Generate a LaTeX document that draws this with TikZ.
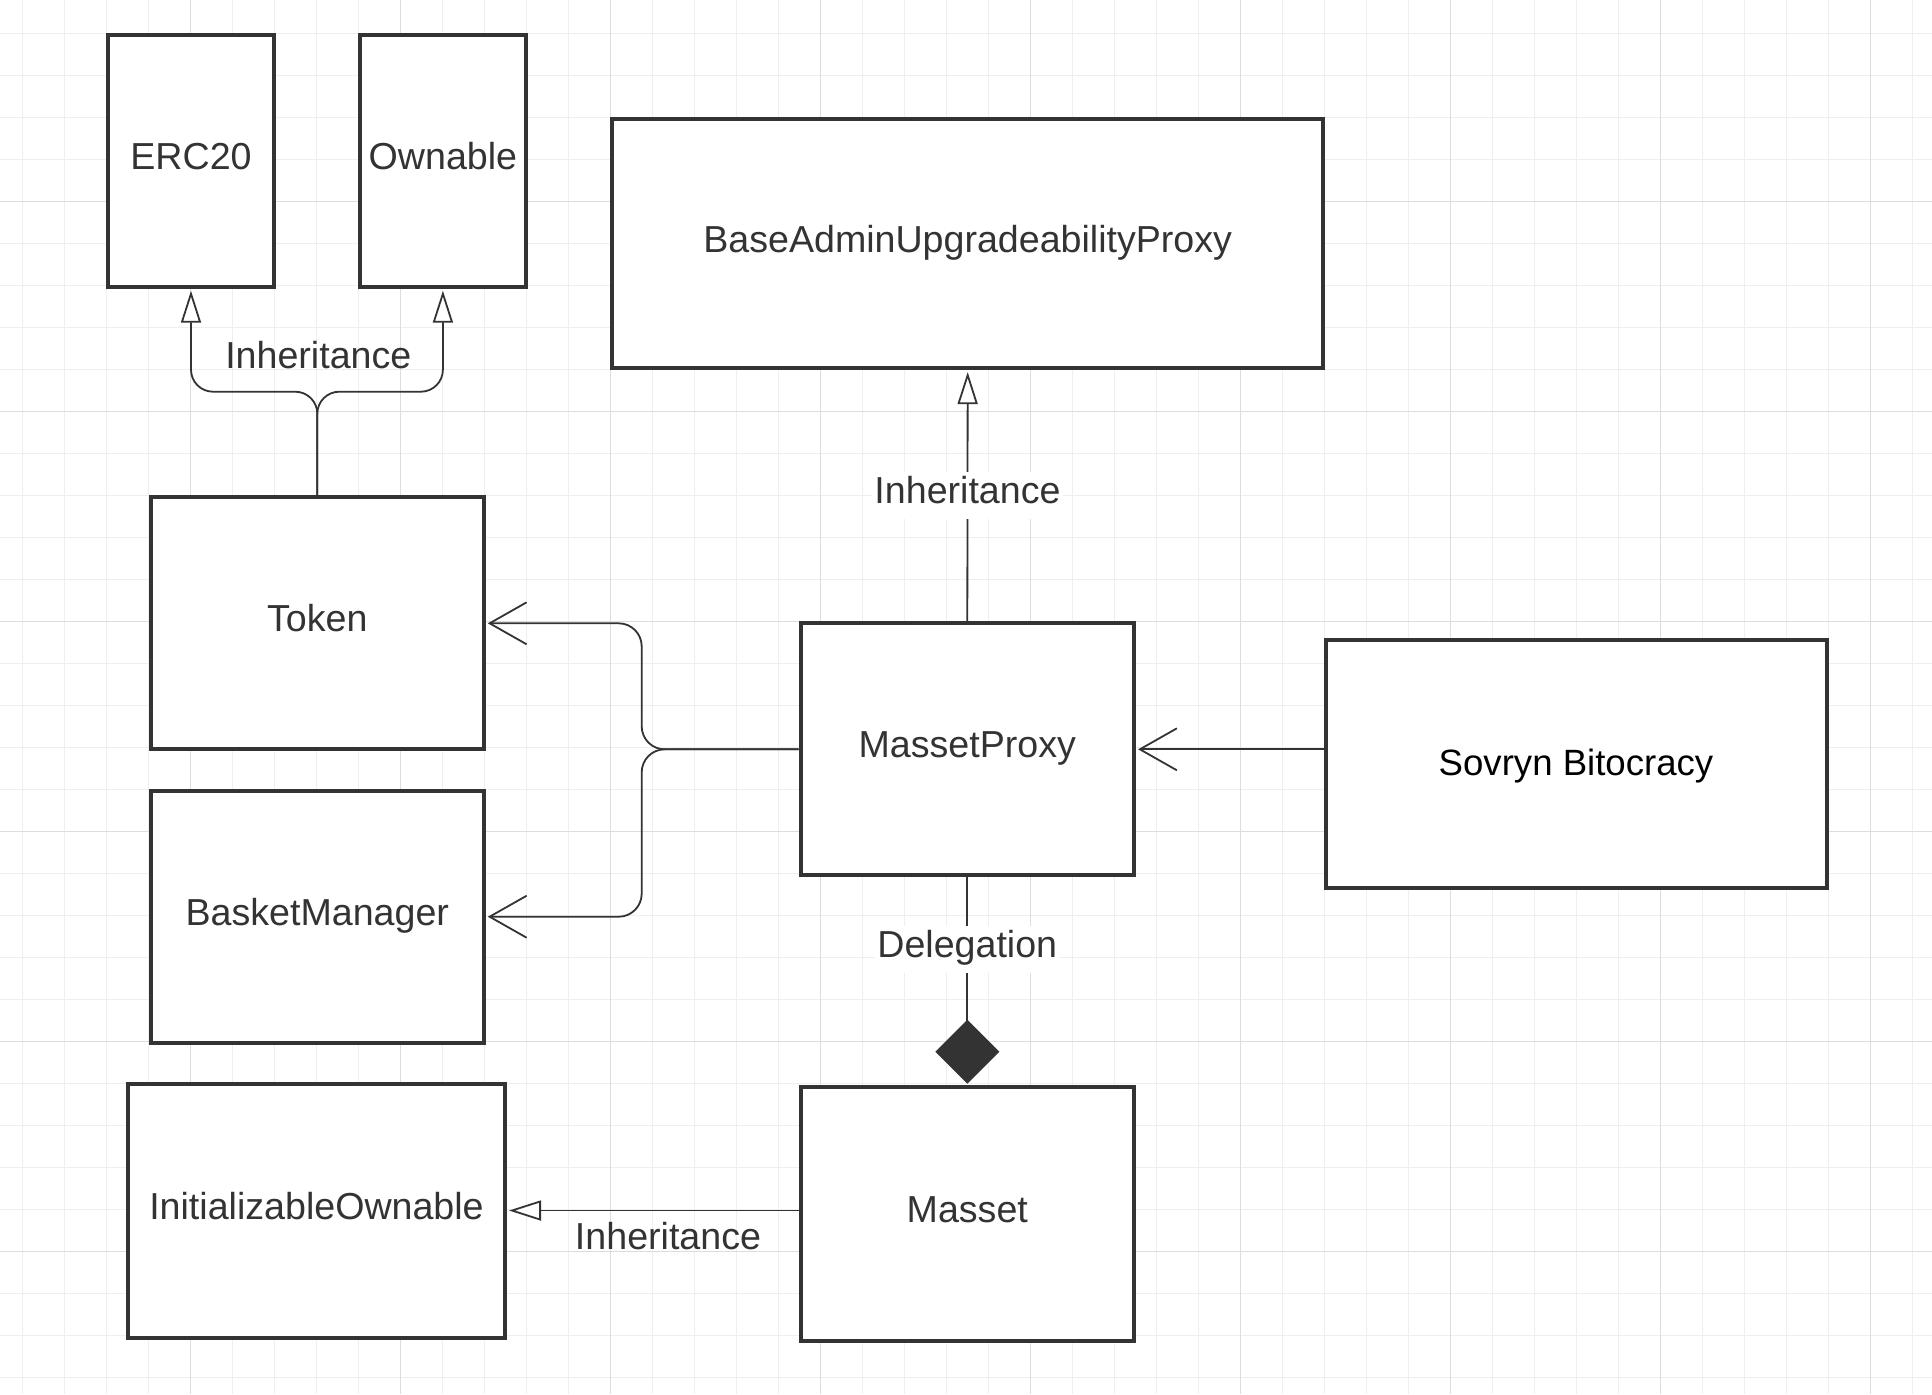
\documentclass[tikz,border=0pt]{standalone}
\usepackage{fontspec}
\setmainfont{Liberation Sans}
\usetikzlibrary{arrows.meta}
\definecolor{ink}{HTML}{333333}
\definecolor{gridminor}{HTML}{EFEFEF}
\definecolor{gridmajor}{HTML}{DDDDDD}
\begin{document}
\begin{tikzpicture}[x=0.5pt,y=-0.5pt,
  cls/.style={draw=ink, line width=2pt, fill=white, inner sep=0pt,
    minimum height=126pt, text=ink, font=\fontsize{18.8}{22}\selectfont,
    text height=14pt, text depth=5.5pt},
  lbl/.style={text=ink, font=\fontsize{18.8}{22}\selectfont, inner xsep=1pt,
    inner ysep=1.75pt, text height=14pt, text depth=6pt},
  conn/.style={draw=ink, line width=0.9pt},
  inh/.style={conn, -{Triangle[length=16pt, width=10pt, fill=white]}, shorten >=1pt},
  assoc/.style={conn, -{Straight Barb[length=18.5pt, width=21pt]}, shorten >=1pt},
  deleg/.style={conn, -{Diamond[length=32pt, width=32pt]}, shorten >=0.5pt}]
\useasboundingbox (0,0) rectangle (1932,1394);
\fill[white] (0,0) rectangle (1932,1394);
% grid
\foreach \i in {0,...,45} {\draw[gridminor, line width=0.5pt] ({22.3+42*\i},0) -- ({22.3+42*\i},1394);}
\foreach \i in {0,...,32} {\draw[gridminor, line width=0.5pt] (0,{33.3+42*\i}) -- (1932,{33.3+42*\i});}
\foreach \i in {0,...,8} {\draw[gridmajor, line width=0.7pt] ({190.3+210*\i},0) -- ({190.3+210*\i},1394);}
\foreach \i in {0,...,5} {\draw[gridmajor, line width=0.7pt] (0,{201.3+210*\i}) -- (1932,{201.3+210*\i});}
% classes
\node[cls, minimum width=83pt] (erc) at (191,160.7) {ERC20};
\node[cls, minimum width=83.3pt] (own) at (442.9,160.7) {Ownable};
\node[cls, minimum width=355.25pt, minimum height=124.5pt] (base) at (967.7,243.6) {BaseAdminUpgradeabilityProxy};
\node[cls, minimum width=166.5pt] (token) at (317.3,623.3) {Token};
\node[cls, minimum width=166.5pt] (basket) at (317.3,916.7) {BasketManager};
\node[cls, minimum width=188.5pt, minimum height=127pt] (iown) at (316.5,1210.5) {InitializableOwnable};
\node[cls, minimum width=166.75pt] (mproxy) at (967.3,749.3) {MassetProxy};
\node[cls, minimum width=166.75pt, minimum height=127pt] (masset) at (967.3,1213.7) {Masset};
\node[cls, minimum width=250.5pt, minimum height=124pt, text=black,
  font=\fontsize{18.3}{22}\selectfont, text depth=2.3pt] (sov) at (1576,764) {Sovryn Bitocracy};
% connectors
\coordinate (bt) at (0,391.7);
\draw[inh, rounded corners=11pt] (token.north) -- (token.north |- bt) -- (erc.south |- bt) -- (erc.south);
\draw[inh, rounded corners=11pt] (token.north) -- (token.north |- bt) -- (own.south |- bt) -- (own.south);
\node[lbl, anchor=base] (l1) at (318.3,368.3) {Inheritance};
\draw[inh] (mproxy.north) -- node[lbl, fill=white, midway] (l2) {Inheritance} (base.south);
\coordinate (bx) at (641.7,0);
\draw[assoc, rounded corners=11.5pt] (mproxy.west) -- (bx |- mproxy.west) -- (bx |- token.east) -- (token.east);
\draw[assoc, rounded corners=11.5pt] (mproxy.west) -- (bx |- mproxy.west) -- (bx |- basket.east) -- (basket.east);
\draw[assoc] (sov.west |- mproxy.east) -- (mproxy.east);
\draw[deleg] (mproxy.south) -- node[lbl, fill=white, pos=0.35] (l3) {Delegation} (masset.north);
\draw[inh] (masset.west |- iown.east) -- (iown.east);
\node[lbl, anchor=base] (l4) at (668,1249) {Inheritance};
\end{tikzpicture}
\end{document}
